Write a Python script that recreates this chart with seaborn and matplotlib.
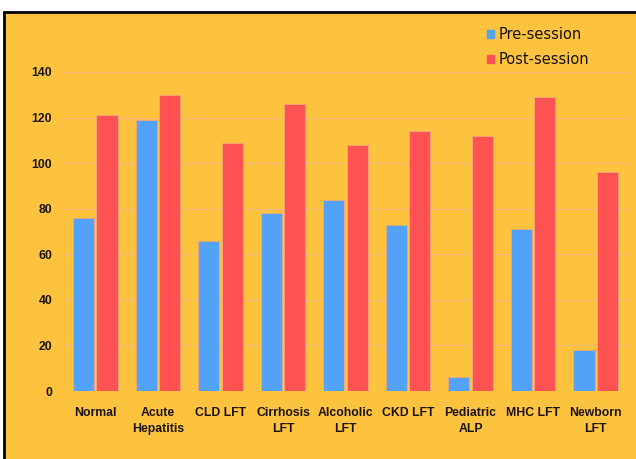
import pandas as pd
import seaborn as sns
import matplotlib.pyplot as plt
from matplotlib.patches import Rectangle
from matplotlib.lines import Line2D

# chart data
categories = ['Normal', 'Acute\nHepatitis', 'CLD LFT', 'Cirrhosis\nLFT', 'Alcoholic\nLFT',
              'CKD LFT', 'Pediatric\nALP', 'MHC LFT', 'Newborn\nLFT']
pre_session = [76, 119, 66, 78, 84, 73, 6, 71, 18]
post_session = [121, 130, 109, 126, 108, 114, 112, 129, 96]
series_names = ['Pre-session', 'Post-session']
y_ticks = [0, 20, 40, 60, 80, 100, 120, 140]

df = pd.DataFrame({
    'category': categories * 2,
    'value': pre_session + post_session,
    'session': [series_names[0]] * len(categories) + [series_names[1]] * len(categories),
})

sns.set_style('white')
plt.rcParams['font.family'] = ['Liberation Sans', 'DejaVu Sans']

orange = '#FDC33F'
blue = '#52A2FA'
red = '#FF5353'
fig = plt.figure(figsize=(6.36, 4.59), dpi=100)
fig.patch.set_facecolor('white')

# orange panel with black border on left and top
fig.patches.append(Rectangle((4 / 636, 0), 1, 1 - 12 / 459, transform=fig.transFigure,
                             facecolor=orange, edgecolor='none', zorder=-2))
fig.lines.append(Line2D([4 / 636, 4 / 636], [0, 1 - 12 / 459], transform=fig.transFigure,
                        color='black', lw=2, zorder=-1))
fig.lines.append(Line2D([4 / 636, 1], [1 - 12 / 459, 1 - 12 / 459], transform=fig.transFigure,
                        color='black', lw=2, zorder=-1))

ax = fig.add_axes([64 / 636, 68 / 459, 563 / 636, 319 / 459])
ax.set_facecolor('none')

sns.barplot(data=df, x='category', y='value', hue='session', ax=ax,
            palette=[blue, red], saturation=1, width=0.75, gap=0.1,
            edgecolor='#F7A77C', linewidth=0.6, legend=False)

ax.set_ylim(0, 140)
ax.set_yticks(y_ticks)
ax.set_xlim(-0.5, len(categories) - 0.5)
ax.grid(axis='y', color='#F3B77E', lw=0.8)
ax.set_axisbelow(True)
for s in ax.spines.values():
    s.set_visible(False)
ax.set_xlabel('')
ax.set_ylabel('')
ax.tick_params(axis='y', length=0, pad=8.5, labelsize=8.8, labelcolor='#1C1408')
ax.tick_params(axis='x', length=0, pad=11.5, labelsize=8.8, labelcolor='#1C1408')
for lbl in ax.get_yticklabels() + ax.get_xticklabels():
    lbl.set_fontweight('bold')
for lbl in ax.get_xticklabels():
    lbl.set_linespacing(1.4)

handles = [Rectangle((0, 0), 1, 1, color=blue), Rectangle((0, 0), 1, 1, color=red)]
fig.legend(handles, series_names, loc='upper left', bbox_to_anchor=(474 / 636, 1 - 14 / 459),
           frameon=False, handlelength=0.5, handleheight=0.5, handletextpad=0.3,
           labelspacing=0.7, labelcolor='#1A1008', prop={'family': ['DejaVu Sans'], 'size': 10.5})

fig.savefig('out.png', dpi=100, facecolor=fig.get_facecolor())
